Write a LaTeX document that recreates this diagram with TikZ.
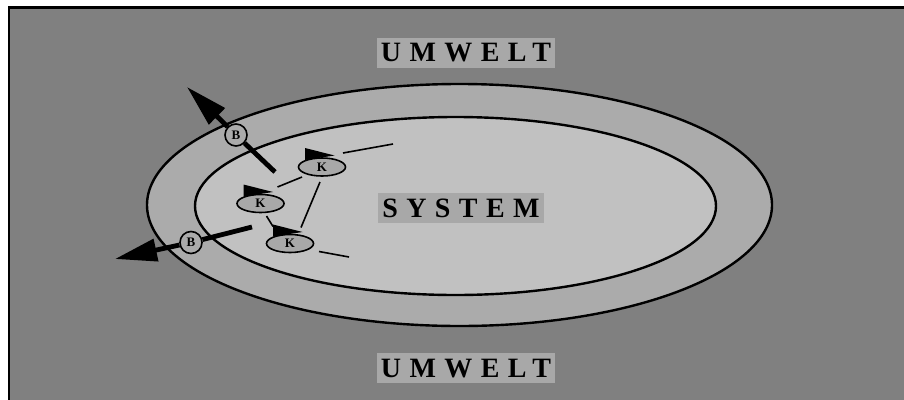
\documentclass[tikz,border=0pt]{standalone}
\usepackage{fontspec}
\setmainfont{Liberation Serif}
\newfontfamily\tafelfont[LetterSpace=30]{Liberation Serif}
\usetikzlibrary{arrows.meta,shapes.geometric}

\definecolor{umweltgray}{gray}{0.5}
\definecolor{ringgray}{gray}{0.67}
\definecolor{systemgray}{gray}{0.755}
\definecolor{tafelgray}{gray}{0.66}

\begin{document}
\begin{tikzpicture}[x=1pt,y=-1pt]
\tikzset{
  tafel/.style={fill=tafelgray,inner xsep=4pt,inner ysep=6pt,text height=18pt,text depth=0pt,
    font=\tafelfont\fontsize{28}{28}\selectfont\bfseries},
  knode/.style={ellipse,draw,line width=1.6pt,fill=tafelgray,minimum width=47pt,minimum height=18pt,
    inner sep=0pt,font=\fontsize{13}{13}\selectfont\bfseries},
  bnode/.style={circle,draw,line width=1.6pt,fill=ringgray,minimum size=22pt,inner sep=0pt,
    font=\fontsize{13}{13}\selectfont\bfseries},
  link/.style={line width=1.6pt},
  flow/.style={line width=4.8pt},
  flowtip/.style={flow,-{Triangle[length=42pt,width=22pt]}}
}
\useasboundingbox (0,0) rectangle (904,399);
\clip (0,0) rectangle (904,399);
\fill[white] (0,0) rectangle (904,399);
\draw[line width=2.6pt,fill=umweltgray] (9,7.7) rectangle (915,410);
% umwelt and system
\draw[line width=2.4pt,fill=ringgray] (459.5,205) ellipse [x radius=312.5,y radius=121];
\draw[line width=2.4pt,fill=systemgray] (455.5,206) ellipse [x radius=260.5,y radius=89];
\node[tafel] (umweltOben) at (466,52.5) {UMWELT};
\node[tafel] (system) at (461,208) {SYSTEM};
\node[tafel] (umweltUnten) at (466,368) {UMWELT};
% components
\node[knode] (kTop) at (322,167) {K};
\node[knode] (kMid) at (260.5,203.5) {K};
\node[knode] (kBot) at (290,243.5) {K};
\foreach \k in {kTop,kMid,kBot}
  \fill ([shift={(-17,-19)}]\k.center) -- ([shift={(12.5,-11.5)}]\k.center)
    -- ([shift={(-17,-7)}]\k.center) -- cycle;
\coordinate (kTopEnd) at (393,144);
\coordinate (kBotEnd) at (349,257);
\draw[link] ([shift={(17,-16.5)}]kMid.center) -- ([shift={(-20,10)}]kTop.center);
\draw[link] ([shift={(-2,15)}]kTop.center) -- ([shift={(11,-16)}]kBot.center);
\draw[link] ([shift={(6,12.5)}]kMid.center) -- ([shift={(-17,-17)}]kBot.center);
\draw[link] ([shift={(21,-14)}]kTop.center) -- (kTopEnd);
\draw[link] ([shift={(29,8)}]kBot.center) -- (kBotEnd);
% boundary crossings
\coordinate (bTopFrom) at (275,172);
\coordinate (bTopTip) at (187,87);
\coordinate (bBotFrom) at (252,227);
\coordinate (bBotTip) at (115,259);
\node[bnode] (bTop) at (236,135) {B};
\node[bnode] (bBot) at (191,242.5) {B};
\draw[flow] (bTopFrom) -- (bTop);
\draw[flowtip] (bTop) -- (bTopTip);
\draw[flow] (bBotFrom) -- (bBot);
\draw[flowtip] (bBot) -- (bBotTip);
\end{tikzpicture}
\end{document}
